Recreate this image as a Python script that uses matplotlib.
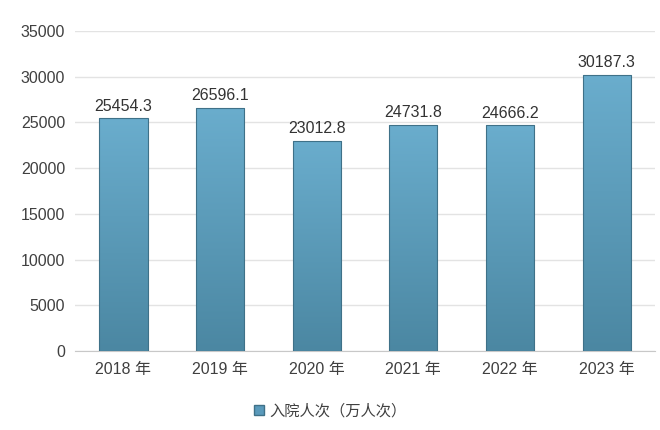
import matplotlib.pyplot as plt
import numpy as np
from matplotlib.colors import LinearSegmentedColormap
from matplotlib.patches import Patch

plt.rcParams['font.family'] = ['Liberation Sans', 'Noto Sans CJK SC', 'DejaVu Sans']

years = ['2018 年', '2019 年', '2020 年', '2021 年', '2022 年', '2023 年']
values = [25454.3, 26596.1, 23012.8, 24731.8, 24666.2, 30187.3]
labels = ['25454.3', '26596.1', '23012.8', '24731.8', '24666.2', '30187.3']
series_name = '入院人次（万人次）'

fig = plt.figure(figsize=(6.6, 4.3), dpi=100)
ax = fig.add_axes([75/660, 1-351/430, 580/660, 320/430])

x = np.arange(len(years))
bars = ax.bar(x, values, width=0.5, color='#5a9abb', edgecolor='#3f7188', linewidth=0.8, zorder=3)

# gradient fill, light on top and darker at the bottom
cmap = LinearSegmentedColormap.from_list('g', ['#4b87a2', '#6aadcd'])
grad = np.linspace(0, 1, 256).reshape(-1, 1)
for b in bars:
    x0, w, h = b.get_x(), b.get_width(), b.get_height()
    im = ax.imshow(grad, cmap=cmap, aspect='auto', origin='lower',
                   extent=[x0, x0 + w, 0, h], zorder=3.5)
    im.set_clip_path(b)
    b.set_facecolor('none')
    b.set_zorder(4)

for xi, v, lab in zip(x, values, labels):
    ax.text(xi, v + 500, lab, ha='center', va='bottom', fontsize=11.5, color='#333333')

ax.set_xlim(-0.5, 5.5)
ax.set_ylim(0, 35000)
ax.set_yticks(range(0, 35001, 5000))
ax.set_xticks(x)
ax.set_xticklabels(years)
ax.tick_params(axis='both', length=0, labelsize=11.5, colors='#404040')
ax.tick_params(axis='y', pad=7)
ax.tick_params(axis='x', pad=8)
ax.grid(axis='y', color='#e3e3e3', linewidth=1, zorder=0)
for s in ['top', 'right', 'left']:
    ax.spines[s].set_visible(False)
ax.spines['bottom'].set_color('#c8c8c8')

handle = Patch(facecolor='#5a9abb', edgecolor='#3f7188')
fig.legend([handle], [series_name], loc='center', bbox_to_anchor=(0.5, 1-411/430),
           frameon=False, fontsize=11, handlelength=0.7, handleheight=0.7,
           handletextpad=0.3, labelcolor='#404040')

fig.savefig('out.png', dpi=100)
